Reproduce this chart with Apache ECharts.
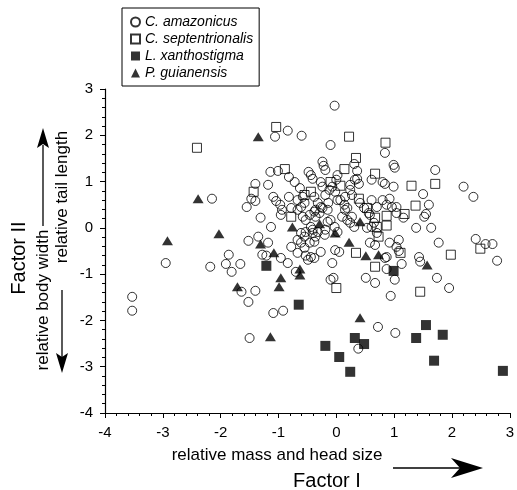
<!DOCTYPE html>
<html>
<head>
<meta charset="utf-8">
<script src="https://cdn.jsdelivr.net/npm/echarts@6/dist/echarts.min.js"></script>
<style>html,body{margin:0;padding:0;background:#fff;}#c{width:517px;height:490px;}</style>
</head>
<body>
<div id="c"></div>
<script>
// ---- data ----
const seriesNames = ['C. amazonicus', 'C. septentrionalis', 'L. xanthostigma', 'P. guianensis'];
const xTicks = [-4, -3, -2, -1, 0, 1, 2, 3];
const yTicks = [-4, -3, -2, -1, 0, 1, 2, 3];

const amazonicus = [
  [-3.53,-1.49],[-3.53,-1.79],[-2.95,-0.76],[-2.18,-0.84],[-1.86,-0.58],[-1.91,-0.78],[-1.81,-0.95],
  [-1.66,-0.78],[-1.64,-1.38],[-1.40,-1.36],[-1.52,-1.60],[-1.09,-1.84],[-0.92,-1.79],[-1.50,-2.38],
  [-1.52,-0.28],[-1.35,-0.19],[-1.18,-0.32],[-1.28,-0.58],[-1.21,-0.60],[-0.96,-0.65],[-0.78,-0.41],
  [-0.84,-0.76],[-0.70,-0.95],[-0.67,-0.54],[-0.53,-0.60],[-0.49,-0.69],[-0.61,-0.32],[-0.46,-0.32],
  [-1.06,1.97],[-0.84,2.10],[-0.60,1.99],[-2.15,0.63],[-1.14,1.21],[-1.01,1.23],[-0.82,1.10],
  [-0.72,0.99],[-0.48,1.21],[-0.44,1.14],[-0.41,1.06],[-1.40,0.95],[-1.18,0.93],[-1.47,0.63],
  [-1.40,0.58],[-1.55,0.45],[-1.09,0.67],[-1.04,0.58],[-0.97,0.50],[-0.94,0.39],[-0.96,0.28],
  [-0.82,0.67],[-0.63,0.86],[-0.67,0.60],[-0.61,0.45],[-0.78,0.43],[-0.46,0.28],[-0.38,0.35],
  [-1.31,0.22],[-1.13,0.02],[-0.10,1.79],[-0.24,1.43],[-0.22,1.34],[-0.19,1.25],[0.02,1.14],
  [-0.58,0.67],[-0.55,0.54],[-0.32,0.54],[-0.27,0.45],[-0.38,0.67],[-0.07,0.89],[-0.02,0.78],
  [0.02,0.60],[-0.19,0.71],[-0.14,0.54],[-0.24,0.43],[-0.03,2.64],[0.84,1.62],[0.99,1.36],
  [1.01,1.30],[1.71,1.25],[0.31,1.38],[0.36,1.23],[0.36,1.06],[0.00,1.04],[2.20,0.89],[2.37,0.67],
  [1.50,0.73],[1.60,0.50],[1.52,0.24],[1.55,0.30],[1.38,0.00],[1.64,0.00],[1.77,-0.32],[2.41,-0.24],
  [2.58,-0.35],[2.70,-0.35],[0.80,0.99],[0.84,0.95],[0.99,0.89],[1.04,0.32],[1.16,0.22],[0.80,0.60],
  [0.92,0.63],[0.87,0.50],[0.96,0.45],[0.61,1.04],[0.32,1.04],[0.39,0.95],[0.24,0.82],[0.27,0.71],
  [-0.27,0.99],[-0.24,0.89],[-0.12,0.82],[0.41,0.54],[0.48,0.43],[0.56,0.32],[0.65,0.11],[0.70,-0.11],
  [0.19,0.17],[0.24,0.11],[0.31,0.02],[-0.36,0.24],[-0.29,0.32],[-0.10,0.17],[-0.03,0.02],[-0.58,0.24],
  [-0.53,0.17],[-0.44,0.02],[-0.41,-0.11],[0.07,0.60],[0.14,0.50],[0.19,0.43],[0.58,-0.32],[0.67,-0.37],
  [0.92,-0.32],[1.04,-0.41],[1.08,-0.50],[2.78,-0.71],[1.43,-0.63],[1.45,-0.73],[1.74,-1.08],[1.95,-1.30],
  [0.94,-1.47],[1.01,-1.12],[0.51,-1.08],[0.67,-1.19],[0.87,-0.89],[1.13,-0.78],[0.84,-0.65],[-0.07,-0.76],
  [-0.10,-1.12],[-0.05,-1.08],[-0.27,-0.52],[-0.44,-0.63],[-0.38,-0.65],[-0.02,-0.48],[0.72,-2.14],
  [1.02,-2.27],[0.38,-2.61],[-0.67,-0.26],[-0.55,-0.43],[-0.67,0.39],[-0.36,0.39],[-0.15,0.39],
  [-0.15,0.13],[-0.61,-0.11],[-0.55,-0.19],[-0.53,-0.09],[-0.41,-0.04],[-0.32,-0.09],[-0.36,-0.19],
  [-0.19,-0.04],[-0.20,-0.15],[0.02,-0.09],[-0.38,-0.30],[0.15,0.39],[0.10,0.24],[0.27,0.24],
  [0.58,0.28],[0.61,0.02],[0.53,0.00],[0.70,0.45],[1.04,0.45],[0.05,-0.52],[1.08,-0.26],[0.87,-0.63],
  [0.24,0.93],[0.15,0.67],[0.61,0.60]
];

const septentrionalis = [
  [-1.04,2.18],[-2.41,1.73],[-0.89,1.27],[-1.43,0.78],[-0.55,0.71],[-0.44,0.78],[-0.78,0.24],
  [0.22,1.97],[0.85,1.84],[0.34,1.51],[0.14,1.27],[0.67,1.17],[-0.10,0.99],[0.07,0.91],[1.30,0.91],
  [1.71,0.95],[1.37,0.48],[1.18,0.30],[0.87,0.26],[0.39,0.63],[0.53,0.43],[0.67,0.22],[0.70,0.02],
  [0.73,-0.19],[0.34,-0.54],[0.67,-0.84],[1.11,-0.54],[0.00,-1.30],[1.45,-1.38],[1.98,-0.58],
  [2.49,-0.45],[0.87,0.05]
];

const xanthostigma = [
  [-1.21,-0.82],[-0.65,-1.66],[0.99,-0.93],[1.55,-2.10],[1.84,-2.31],[1.38,-2.38],[0.32,-2.38],
  [0.48,-2.51],[-0.19,-2.55],[0.05,-2.79],[0.24,-3.11],[1.69,-2.87],[2.88,-3.09]
];

const guianensis = [
  [-1.35,1.97],[-2.39,0.63],[-2.03,-0.13],[-2.92,-0.28],[-1.31,-0.35],[-1.08,-0.54],[-0.63,-0.89],
  [-0.63,-1.02],[-0.96,-1.08],[-0.99,-1.27],[-1.71,-1.27],[-1.14,-2.35],[-0.76,0.02],[-0.29,0.09],
  [-0.02,-0.11],[0.22,-0.31],[0.51,-0.60],[0.73,-0.58],[1.57,-0.80],[0.41,-1.94],[0.41,0.13]
];

// ---- chart ----
const FONT = '"Liberation Sans", Arial, Helvetica, sans-serif';
const chart = echarts.init(document.getElementById('c'), null, {renderer: 'canvas'});

const axisCommon = {
  min: -4, max: 3, interval: 1,
  axisLine: {show: true, onZero: false, lineStyle: {color: '#000', width: 1.2}},
  axisTick: {show: true, inside: false, length: 5, lineStyle: {color: '#000', width: 1}},
  minorTick: {show: true, splitNumber: 5, length: 3, lineStyle: {color: '#000', width: 1}},
  splitLine: {show: false},
  minorSplitLine: {show: false},
  axisLabel: {color: '#000', fontSize: 15, fontFamily: FONT, margin: 12,
    formatter: v => (xTicks.indexOf(v) >= 0 ? String(v) : '')}
};

const option = {
  animation: false,
  backgroundColor: '#fff',
  grid: {left: 105, right: 2, top: 89, bottom: 77, containLabel: false},
  xAxis: Object.assign({type: 'value'}, axisCommon),
  yAxis: Object.assign({type: 'value'}, axisCommon, {
    axisLabel: Object.assign({}, axisCommon.axisLabel, {margin: 12,
      formatter: v => (yTicks.indexOf(v) >= 0 ? String(v) : '')})
  }),
  legend: {
    orient: 'vertical', left: 122, top: 8,
    data: seriesNames,
    borderColor: '#000', borderWidth: 1, borderRadius: 0,
    padding: [7, 6, 6, 8],
    itemGap: 3, itemWidth: 9, itemHeight: 9,
    textStyle: {fontSize: 14, fontStyle: 'italic', fontFamily: FONT, color: '#000', lineHeight: 14},
    selectedMode: false
  },
  series: [
    {name: seriesNames[0], type: 'scatter', data: amazonicus, symbol: 'circle', symbolSize: 9,
     itemStyle: {color: 'rgba(255,255,255,0)', borderColor: '#000', borderWidth: 1}},
    {name: seriesNames[1], type: 'scatter', data: septentrionalis, symbol: 'rect', symbolSize: 9,
     itemStyle: {color: 'rgba(255,255,255,0)', borderColor: '#000', borderWidth: 1}},
    {name: seriesNames[2], type: 'scatter', data: xanthostigma, symbol: 'rect', symbolSize: 10,
     itemStyle: {color: '#000'}},
    {name: seriesNames[3], type: 'scatter', data: guianensis, symbol: 'triangle', symbolSize: [11, 9],
     itemStyle: {color: '#000'}}
  ],
  graphic: [
    {type: 'text', x: 19, y: 258, rotation: Math.PI / 2,
     style: {text: 'Factor II', fontSize: 20, fontFamily: FONT, fill: '#000', align: 'center', verticalAlign: 'middle'}},
    {type: 'text', x: 43, y: 300, rotation: Math.PI / 2,
     style: {text: 'relative body width', fontSize: 17, fontFamily: FONT, fill: '#000', align: 'center', verticalAlign: 'middle'}},
    {type: 'line', shape: {x1: 43, y1: 226, x2: 43, y2: 145}, style: {stroke: '#000', lineWidth: 1.3}},
    {type: 'polygon', shape: {points: [[43, 128], [37, 148], [43, 144], [49, 148]]}, style: {fill: '#000'}},
    {type: 'text', x: 62, y: 197, rotation: Math.PI / 2,
     style: {text: 'relative tail length', fontSize: 17, fontFamily: FONT, fill: '#000', align: 'center', verticalAlign: 'middle'}},
    {type: 'line', shape: {x1: 62, y1: 290, x2: 62, y2: 358}, style: {stroke: '#000', lineWidth: 1.3}},
    {type: 'polygon', shape: {points: [[62, 373], [56, 353], [62, 357], [68, 353]]}, style: {fill: '#000'}},
    {type: 'text', x: 277, y: 455,
     style: {text: 'relative mass and head size', fontSize: 17, fontFamily: FONT, fill: '#000', align: 'center', verticalAlign: 'middle'}},
    {type: 'line', shape: {x1: 393, y1: 468, x2: 465, y2: 468}, style: {stroke: '#000', lineWidth: 1.3}},
    {type: 'polygon', shape: {points: [[483, 468], [451, 458], [460, 468], [451, 478]]}, style: {fill: '#000'}},
    {type: 'text', x: 327, y: 481,
     style: {text: 'Factor I', fontSize: 20, fontFamily: FONT, fill: '#000', align: 'center', verticalAlign: 'middle'}}
  ]
};
chart.setOption(option);
</script>
</body>
</html>
